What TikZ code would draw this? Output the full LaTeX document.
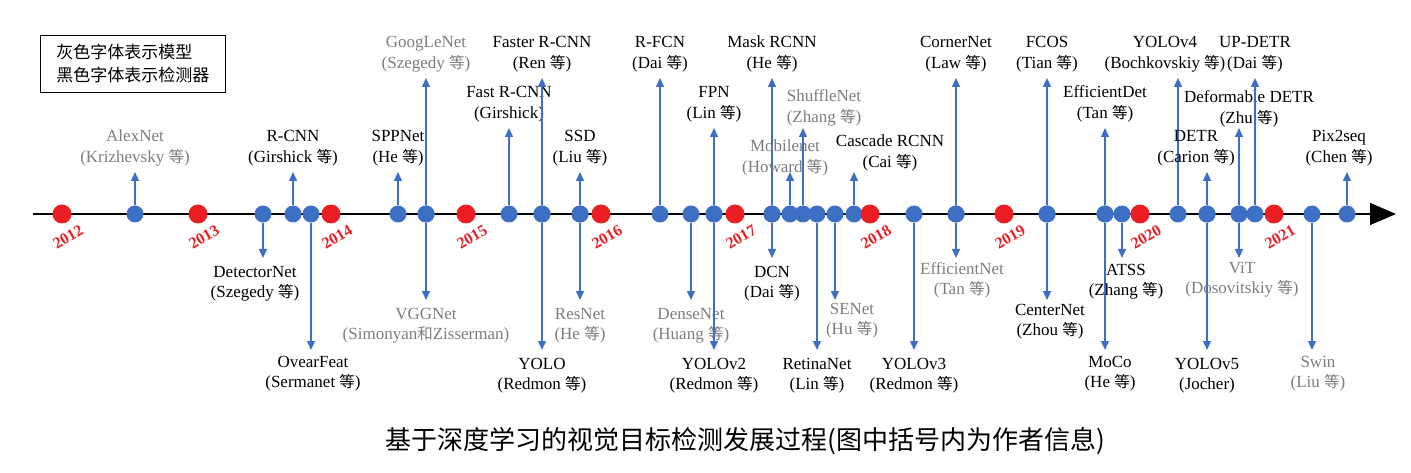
\documentclass[tikz,border=0pt]{standalone}
\usepackage{fontspec}
\setmainfont{Liberation Serif}
\newfontfamily\cjk{Noto Sans CJK SC}
\usetikzlibrary{arrows.meta}
\definecolor{dblue}{RGB}{61,112,196}
\definecolor{yred}{RGB}{235,30,35}
\definecolor{gtext}{RGB}{125,125,125}
\tikzset{
  bdot/.style={circle,fill=dblue,inner sep=0pt,minimum size=17pt},
  rdot/.style={circle,fill=yred,inner sep=0pt,minimum size=19pt},
  arr/.style={draw=dblue,line width=1.4pt,-{Triangle[width=8pt,length=9pt]}},
  lbl/.style={align=center,font=\fontsize{17}{20.5}\selectfont,inner sep=0pt},
  dk/.style={lbl,text=black},
  gr/.style={lbl,text=gtext},
  yr/.style={text=yred,font=\fontsize{16}{16}\bfseries\selectfont,rotate=30,inner sep=0pt}
}
% name, x, end y, label style, text
\newcommand\evup[5]{\node[bdot] (#1) at (#2,214) {};
  \coordinate (#1e) at (#2,#3);
  \draw[arr] (#1) -- (#1e);
  \node[#4,anchor=south] (#1l) at (#2,#3-6) {#5};}
\newcommand\evdn[5]{\node[bdot] (#1) at (#2,214) {};
  \coordinate (#1e) at (#2,#3);
  \draw[arr] (#1) -- (#1e);
  \node[#4,anchor=north] (#1l) at (#2,#3+8) {#5};}
\newcommand\yrm[3]{\node[rdot] (y#1) at (#2,214) {};
  \node[yr] (yl#1) at (#2+6,237) {#1};}
\newcommand\deng{{\cjk\fontsize{15.5}{20}\selectfont 等}}
\begin{document}
\begin{tikzpicture}[x=1pt,y=-1pt]
\useasboundingbox (0,0) rectangle (1411,473);
\coordinate (ts) at (33,214);
\coordinate (te) at (1396,214);
\draw[line width=1.3pt,-{Triangle[width=22pt,length=26pt]}] (ts) -- (te);
\node[draw,line width=0.8pt,minimum width=185pt,minimum height=57pt,align=left,anchor=north west,font=\cjk\fontsize{17}{23}\selectfont] (leg) at (40,35) {灰色字体表示模型\\黑色字体表示检测器};
% ups
\evup{alex}{135}{172}{gr}{AlexNet\\(Krizhevsky \deng)}
\evup{rcnn}{293}{172}{dk}{R-CNN\\(Girshick \deng)}
\evup{spp}{398}{172}{dk}{SPPNet\\(He \deng)}
\evup{goog}{426}{78}{gr}{GoogLeNet\\(Szegedy \deng)}
\evup{fast}{509}{128}{dk}{Fast R-CNN\\(Girshick)}
\evup{faster}{542}{78}{dk}{Faster R-CNN\\(Ren \deng)}
\evup{ssd}{580}{172}{dk}{SSD\\(Liu \deng)}
\evup{rfcn}{660}{78}{dk}{R-FCN\\(Dai \deng)}
\evup{fpn}{714}{128}{dk}{FPN\\(Lin \deng)}
\evup{mask}{772}{78}{dk}{Mask RCNN\\(He \deng)}
\evup{mob}{790}{172}{gr}{}
\node[gr] (mobl) at (785,158) {Mobilenet\\(Howard \deng)};
\evup{shuf}{803}{128}{gr}{}
\node[gr] (shufl) at (824,108) {ShuffleNet\\(Zhang \deng)};
\evup{casc}{854}{172}{dk}{}
\node[dk] (cascl) at (890,153) {Cascade RCNN\\(Cai \deng)};
\evup{corner}{956}{78}{dk}{CornerNet\\(Law \deng)}
\evup{fcos}{1047}{78}{dk}{FCOS\\(Tian \deng)}
\evup{effd}{1105}{128}{dk}{EfficientDet\\(Tan \deng)}
\evup{yv4}{1178}{78}{dk}{}
\node[dk,anchor=south] (yv4l) at (1165,72) {YOLOv4\\(Bochkovskiy \deng)};
\evup{detr}{1207}{172}{dk}{}
\node[dk,anchor=south] (detrl) at (1196,166) {DETR\\(Carion \deng)};
\evup{ddetr}{1239}{128}{dk}{}
\node[dk] (ddetrl) at (1249,109) {Deformable DETR\\(Zhu \deng)};
\evup{updetr}{1255}{78}{dk}{UP-DETR\\(Dai \deng)}
\evup{pix}{1347}{172}{dk}{}
\node[dk,anchor=south] (pixl) at (1339,166) {Pix2seq\\(Chen \deng)};
% downs
\evdn{det}{263}{258}{dk}{}
\node[dk,anchor=north] (detl) at (255,266) {DetectorNet\\(Szegedy \deng)};
\evdn{over}{311}{350}{dk}{}
\node[dk,anchor=north] (overl) at (313,356) {OvearFeat\\(Sermanet \deng)};
\evdn{vgg}{426}{300}{gr}{VGGNet\\(Simonyan{\cjk\fontsize{15.5}{20}\selectfont 和}Zisserman)}
\evdn{yolo}{542}{350}{dk}{YOLO\\(Redmon \deng)}
\evdn{res}{580}{300}{gr}{ResNet\\(He \deng)}
\evdn{dense}{691}{300}{gr}{DenseNet\\(Huang \deng)}
\evdn{yv2}{714}{350}{dk}{YOLOv2\\(Redmon \deng)}
\evdn{dcn}{772}{258}{dk}{DCN\\(Dai \deng)}
\evdn{retina}{817}{350}{dk}{RetinaNet\\(Lin \deng)}
\evdn{se}{835}{300}{gr}{}
\node[gr,anchor=north] (sel) at (852,303) {SENet\\(Hu \deng)};
\evdn{yv3}{914}{350}{dk}{YOLOv3\\(Redmon \deng)}
\evdn{effn}{956}{258}{gr}{}
\node[gr,anchor=north] (effnl) at (962,262) {EfficientNet\\(Tan \deng)};
\evdn{center}{1047}{300}{dk}{}
\node[dk,anchor=north] (centerl) at (1050,304) {CenterNet\\(Zhou \deng)};
\evdn{moco}{1105}{350}{dk}{}
\node[dk,anchor=north] (mocol) at (1110,356) {MoCo\\(He \deng)};
\evdn{atss}{1122}{258}{dk}{}
\node[dk,anchor=north] (atssl) at (1126,264) {ATSS\\(Zhang \deng)};
\evdn{yv5}{1207}{350}{dk}{YOLOv5\\(Jocher)}
\evdn{vit}{1239}{258}{gr}{}
\node[gr,anchor=north] (vitl) at (1242,262) {ViT\\(Dosovitskiy \deng)};
\evdn{swin}{1312}{350}{gr}{}
\node[gr,anchor=north] (swinl) at (1318,356) {Swin\\(Liu \deng)};
% years
\yrm{2012}{62}{}
\yrm{2013}{198}{}
\yrm{2014}{331}{}
\yrm{2015}{466}{}
\yrm{2016}{601}{}
\yrm{2017}{735}{}
\yrm{2018}{870}{}
\yrm{2019}{1004}{}
\yrm{2020}{1140}{}
\yrm{2021}{1274}{}
\node[font=\cjk\fontsize{26}{30}\selectfont] (cap) at (745,441) {基于深度学习的视觉目标检测发展过程(图中括号内为作者信息)};
\end{tikzpicture}
\end{document}
